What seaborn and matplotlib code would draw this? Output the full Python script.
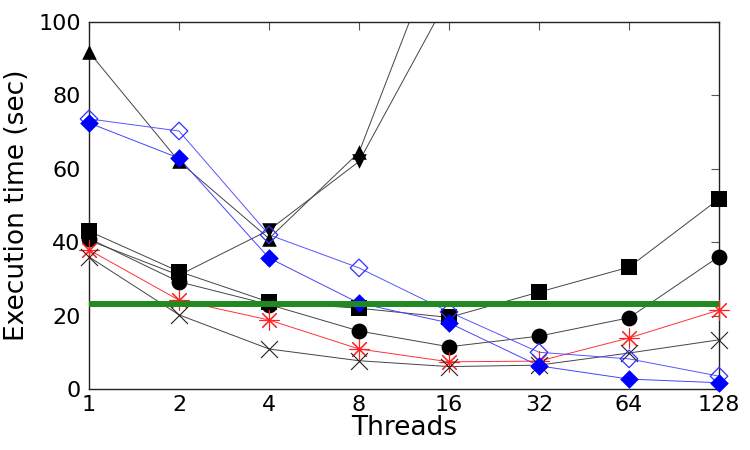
import pandas as pd
import matplotlib
matplotlib.use("Agg")
import matplotlib.pyplot as plt
import seaborn as sns

# Data
threads = [1, 2, 4, 8, 16, 32, 64, 128]
tri_up = [91.8, 62.0, 41.0, 64.5, 128.0, None, None, None]
tri_down = [40.5, 31.0, 43.3, 62.0, 107.0, None, None, None]
square = [43.0, 32.0, 23.7, 22.0, 19.5, 26.4, 33.2, 51.8]
circle = [41.0, 29.2, 23.0, 15.8, 11.5, 14.4, 19.4, 36.1]
asterisk = [37.9, 24.2, 18.8, 10.9, 7.4, 7.6, 13.9, 21.5]
cross = [36.0, 20.2, 10.9, 7.7, 6.1, 6.5, 9.8, 13.4]
open_diamond = [73.6, 70.3, 42.0, 33.0, 21.0, 10.0, 8.2, 3.5]
filled_diamond = [72.5, 62.9, 35.7, 23.4, 18.0, 6.3, 2.7, 1.7]
baseline = 23.2

sns.set_theme(style="white")
plt.rcParams['font.family'] = ['DejaVu Sans']
plt.rcParams['text.color'] = 'black'
plt.rcParams['axes.labelcolor'] = 'black'

fig = plt.figure(figsize=(7.5, 4.5), dpi=100)
ax = fig.add_axes([0.1187, 0.1356, 0.84, 0.8155])

series = [
    (tri_up, '#444444', dict(marker='^', s=110, color='black', linewidths=0)),
    (tri_down, '#444444', dict(marker='v', s=110, color='black', linewidths=0)),
    (square, '#444444', dict(marker='s', s=120, color='black', linewidths=0)),
    (circle, '#444444', dict(marker='o', s=130, color='black', linewidths=0)),
    (asterisk, '#ff3333', dict(marker=(8, 2, 0), s=190, color='#ff2020', linewidths=0.8)),
    (cross, '#444444', dict(marker='x', s=150, color='#222222', linewidths=0.8)),
    (open_diamond, '#5555ff', dict(marker='D', s=80, facecolor='none', edgecolor='#3030ff', linewidths=0.9)),
    (filled_diamond, '#4444ff', dict(marker='D', s=90, color='#0000ff', linewidths=0)),
]

for vals, lc, mk in series:
    df = pd.DataFrame({'threads': threads, 'time': vals}).dropna()
    sns.lineplot(data=df, x='threads', y='time', color=lc, linewidth=0.7, ax=ax)
    inside = df[df['time'] <= 100]
    sns.scatterplot(data=inside, x='threads', y='time', ax=ax, clip_on=False, zorder=3, **mk)

ax.axhline(baseline, color='#1f8a1f', linewidth=4.3, zorder=4)

ax.set_xscale('log', base=2)
ax.set_xlim(1, 128)
ax.set_ylim(0, 100)
ax.set_xticks(threads)
ax.set_xticklabels([str(t) for t in threads])
ax.set_yticks([0, 20, 40, 60, 80, 100])
ax.minorticks_off()

ax.set_xlabel('Threads', fontsize=19, labelpad=0)
ax.set_ylabel('Execution time (sec)', fontsize=19, labelpad=6)
ax.tick_params(axis='both', direction='in', length=6, width=0.8, color='#555555',
               labelcolor='black', top=True, right=True, labelsize=16, pad=6)
ax.tick_params(axis='x', pad=4)

for sp in ax.spines.values():
    sp.set_color('#222222')
    sp.set_linewidth(1.0)
ax.grid(False)

fig.savefig('out.png', dpi=100)
